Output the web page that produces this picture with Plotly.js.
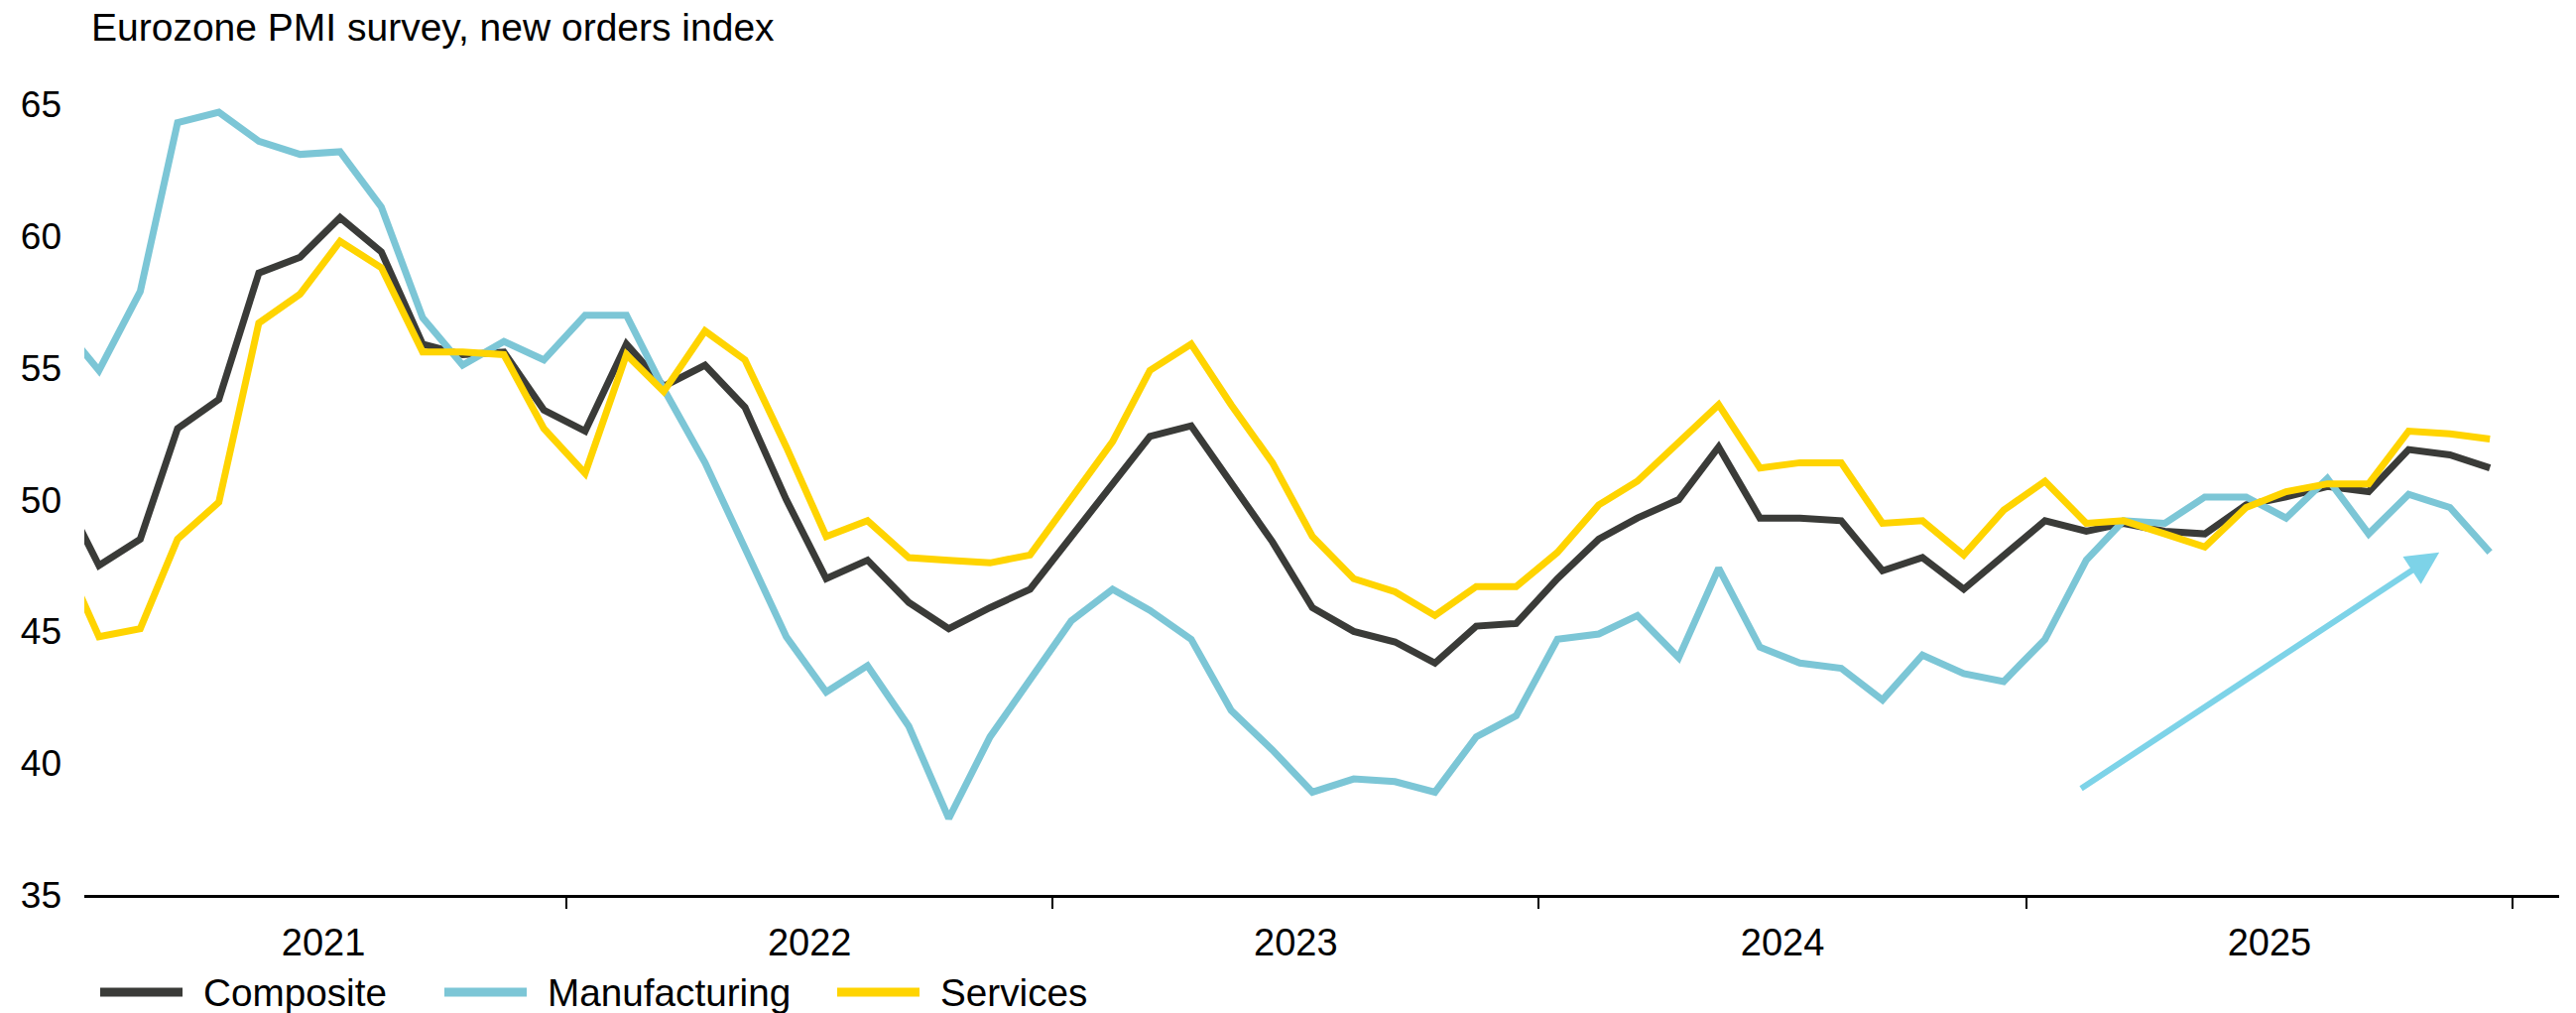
<!DOCTYPE html>
<html>
<head>
<meta charset="utf-8">
<script src="https://cdn.plot.ly/plotly-3.0.1.min.js"></script>
<style>
  html, body { margin: 0; padding: 0; background: #ffffff; }
  #chart { width: 2597px; height: 1021px; }
</style>
</head>
<body>
<div id="chart"></div>
<script>
// ---- Data (monthly, Dec 2020 – Dec 2025) ----
const months = [
  "2020-12",
  "2021-01","2021-02","2021-03","2021-04","2021-05","2021-06","2021-07","2021-08","2021-09","2021-10","2021-11","2021-12",
  "2022-01","2022-02","2022-03","2022-04","2022-05","2022-06","2022-07","2022-08","2022-09","2022-10","2022-11","2022-12",
  "2023-01","2023-02","2023-03","2023-04","2023-05","2023-06","2023-07","2023-08","2023-09","2023-10","2023-11","2023-12",
  "2024-01","2024-02","2024-03","2024-04","2024-05","2024-06","2024-07","2024-08","2024-09","2024-10","2024-11","2024-12",
  "2025-01","2025-02","2025-03","2025-04","2025-05","2025-06","2025-07","2025-08","2025-09","2025-10","2025-11","2025-12"
];

const composite = [
  50.6,
  47.5, 48.5, 52.7, 53.8, 58.6, 59.2, 60.7, 59.4, 55.9, 55.5, 55.6, 53.4,
  52.6, 55.9, 54.3, 55.1, 53.5, 50.0, 47.0, 47.7, 46.1, 45.1, 45.9, 46.6,
  48.6, 50.6, 52.4, 52.8, 50.6, 48.4, 45.9, 45.0, 44.6, 43.8, 45.2, 45.3,
  47.0, 48.5, 49.3, 50.0, 52.0, 49.3, 49.3, 49.2, 47.3, 47.8, 46.6, 47.9,
  49.2, 48.8, 49.1, 48.8, 48.7, 49.8, 50.1, 50.5, 50.3, 51.9, 51.7, 51.2
];

const manufacturing = [
  56.8,
  54.9, 57.9, 64.3, 64.7, 63.6, 63.1, 63.2, 61.1, 56.9, 55.1, 56.0, 55.3,
  57.0, 57.0, 54.2, 51.4, 48.1, 44.8, 42.7, 43.7, 41.4, 37.9, 41.0, 43.2,
  45.4, 46.6, 45.8, 44.7, 42.0, 40.5, 38.9, 39.4, 39.3, 38.9, 41.0, 41.8,
  44.7, 44.9, 45.6, 44.0, 47.4, 44.4, 43.8, 43.6, 42.4, 44.1, 43.4, 43.1,
  44.7, 47.7, 49.2, 49.1, 50.1, 50.1, 49.3, 50.8, 48.7, 50.2, 49.7, 48.0
];

const services = [
  48.3,
  44.8, 45.1, 48.5, 49.9, 56.7, 57.8, 59.8, 58.8, 55.6, 55.6, 55.5, 52.7,
  51.0, 55.5, 54.1, 56.4, 55.3, 52.0, 48.6, 49.2, 47.8, 47.7, 47.6, 47.9,
  50.1, 52.2, 54.9, 55.9, 53.6, 51.4, 48.6, 47.0, 46.5, 45.6, 46.7, 46.7,
  48.0, 49.8, 50.7, 52.2, 53.6, 51.2, 51.4, 51.4, 49.1, 49.2, 47.9, 49.6,
  50.7, 49.1, 49.2, 48.7, 48.2, 49.7, 50.3, 50.6, 50.6, 52.6, 52.5, 52.3
];

const seriesNames = ["Composite", "Manufacturing", "Services"];
const yTickValues = [35, 40, 45, 50, 55, 60, 65];

// Trend arrow (annotation): start and end in data units
const arrowStart = { date: "2025-02-10", value: 39.0 };
const arrowEnd   = { date: "2025-11-07", value: 48.0 };

const chartTitle = "Eurozone PMI survey, new orders index";

// ---- Build chart ----
const dates = months.map(m => m + "-15");
const FONT = "Liberation Sans, Arial, Helvetica, sans-serif";
const colors = ["#3a3b38", "#7cc6d6", "#ffd400"];
const seriesValues = [composite, manufacturing, services];

const traces = seriesValues.map((vals, i) => ({
  type: "scatter",
  mode: "lines",
  x: dates,
  y: vals,
  name: seriesNames[i],
  line: { color: colors[i], width: 7, shape: "linear" },
  showlegend: false
}));

const W = 2597, H = 1021;
const M = { l: 85, r: 17, t: 52, b: 119 };
const plotW = W - M.l - M.r, plotH = H - M.t - M.b;
const px2paperX = px => (px - M.l) / plotW;
const px2paperY = py => (H - M.b - py) / plotH;

// Custom legend layout (pixel positions of swatch start, text start)
const legendSwatchX = [101, 448, 844];
const legendSwatchLen = 83;
const legendTextGap = 22;
const legendY = 1000;
const legendFontSize = 38.7;

const legendShapes = seriesNames.map((n, i) => ({
  type: "line", xref: "paper", yref: "paper",
  x0: px2paperX(legendSwatchX[i]), x1: px2paperX(legendSwatchX[i] + legendSwatchLen),
  y0: px2paperY(legendY), y1: px2paperY(legendY),
  line: { color: colors[i], width: 9 }
}));

const legendLabels = seriesNames.map((n, i) => ({
  xref: "paper", yref: "paper",
  x: px2paperX(legendSwatchX[i] + legendSwatchLen + legendTextGap - 3),
  y: px2paperY(legendY),
  xanchor: "left", yanchor: "middle",
  text: n, showarrow: false,
  font: { family: FONT, size: legendFontSize, color: "#000000" }
}));

const layout = {
  width: W,
  height: H,
  paper_bgcolor: "#ffffff",
  plot_bgcolor: "#ffffff",
  font: { family: FONT, size: 37, color: "#000000" },
  margin: M,
  title: {
    text: chartTitle,
    font: { family: FONT, size: 39, color: "#000000" },
    xref: "container", x: 92 / W, xanchor: "left",
    yref: "container", y: 1 - 27 / H, yanchor: "middle"
  },
  xaxis: {
    type: "date",
    range: ["2021-01-04", "2026-02-05"],
    tick0: "2021-01-01",
    dtick: "M12",
    tickformat: "%Y",
    ticklabelmode: "period",
    ticks: "outside",
    ticklen: 11,
    tickwidth: 2,
    tickcolor: "#000000",
    showline: true,
    linecolor: "#000000",
    linewidth: 3,
    showgrid: false,
    zeroline: false,
    ticklabelstandoff: 1,
    tickfont: { family: FONT, size: 38, color: "#000000" }
  },
  yaxis: {
    range: [35, 67],
    tickvals: yTickValues,
    ticktext: yTickValues.map(String),
    ticks: "",
    showline: false,
    showgrid: false,
    zeroline: false,
    ticklabelstandoff: 22,
    tickfont: { family: FONT, size: 37, color: "#000000" }
  },
  showlegend: false,
  shapes: legendShapes,
  annotations: [{
    x: arrowEnd.date, y: arrowEnd.value,
    ax: arrowStart.date, ay: arrowStart.value,
    xref: "x", yref: "y", axref: "x", ayref: "y",
    text: "",
    showarrow: true,
    arrowhead: 2,
    arrowsize: 1.1,
    arrowwidth: 6,
    arrowcolor: "#7dd3e8",
    standoff: 0,
    startstandoff: 0
  }].concat(legendLabels)
};

Plotly.newPlot("chart", traces, layout, { displayModeBar: false, staticPlot: true });
</script>
</body>
</html>
